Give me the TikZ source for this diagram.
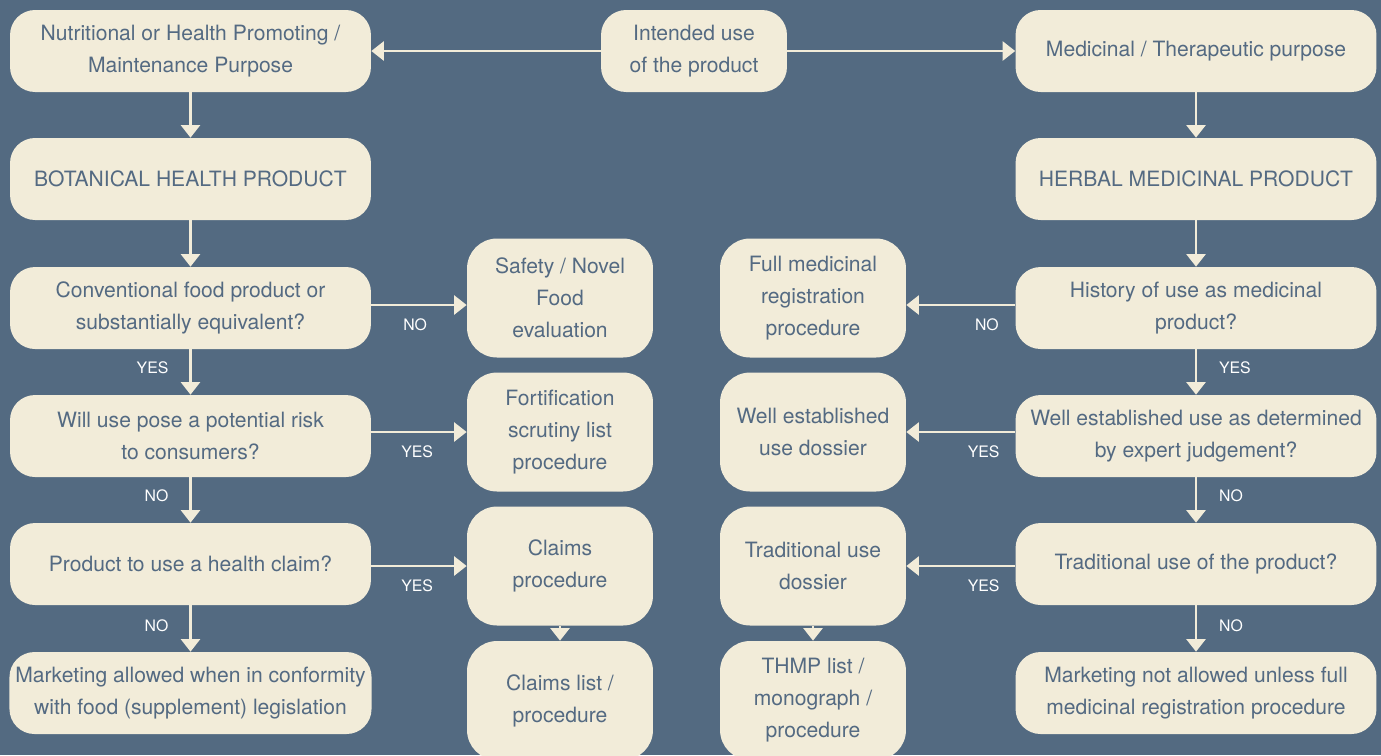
\documentclass[tikz,border=0pt]{standalone}
\usepackage{fontspec}
\setmainfont{TeX Gyre Heros}
\usepackage{tikz}
\usetikzlibrary{arrows.meta}
\definecolor{bgc}{RGB}{83,106,129}
\definecolor{boxc}{RGB}{242,236,217}
\definecolor{txtc}{RGB}{84,106,130}
\tikzset{
  box/.style={fill=boxc,rounded corners=0.5cm,minimum width=7.22cm,minimum height=1.64cm,
    align=center,text=txtc,font=\fontsize{12}{18.2}\selectfont},
  sbox/.style={box,minimum width=3.72cm,minimum height=2.38cm,rounded corners=0.6cm},
  arr/.style={draw=boxc,line width=0.045cm,-{Triangle[width=0.38cm,length=0.25cm]}},
  lab/.style={text=white,font=\fontsize{9}{10}\selectfont,inner sep=0pt}
}
\begin{document}
\begin{tikzpicture}[x=0.02cm,y=-0.02cm]
\fill[bgc](0,0)rectangle(1381,755);
\useasboundingbox(0,0)rectangle(1381,755);
% left column
\node[box](L1)at(190.5,51){Nutritional or Health Promoting /\\Maintenance Purpose};
\node[box](L2)at(190.5,179){BOTANICAL HEALTH PRODUCT};
\node[box](L3)at(190.5,308){Conventional food product or\\substantially equivalent?};
\node[box](L4)at(190.5,436){Will use pose a potential risk\\to consumers?};
\node[box](L5)at(190.5,564){Product to use a health claim?};
\node[box](L6)at(190.5,693){Marketing allowed when in conformity\\with food (supplement) legislation};
% centre
\node[box,minimum width=3.72cm](In)at(694,51){Intended use\\of the product};
% right column
\node[box](R1)at(1196,51){Medicinal / Therapeutic purpose};
\node[box](R2)at(1196,179){HERBAL MEDICINAL PRODUCT};
\node[box](R3)at(1196,308){History of use as medicinal\\product?};
\node[box](R4)at(1196,436){Well established use as determined\\by expert judgement?};
\node[box](R5)at(1196,564){Traditional use of the product?};
\node[box](R6)at(1196,693){Marketing not allowed unless full\\medicinal registration procedure};
% procedures
\node[sbox](S1)at(560,298){Safety / Novel\\Food\\evaluation};
\node[sbox](S2)at(560,432){Fortification\\scrutiny list\\procedure};
\node[sbox](S3)at(560,566){Claims\\procedure};
\node[sbox](S4)at(560,700.5){Claims list /\\procedure};
\node[sbox](M1)at(813,298){Full medicinal\\registration\\procedure};
\node[sbox](M2)at(813,432){Well established\\use dossier};
\node[sbox](M3)at(813,566){Traditional use\\dossier};
\node[sbox](M4)at(813,700.5){THMP list /\\monograph /\\procedure};
% arrows
\draw[arr](In)--(L1);
\draw[arr](In)--(R1);
\foreach \a/\b in {L1/L2,L2/L3,R1/R2,R2/R3,S3/S4,M3/M4}
  \draw[arr](\a)--(\b);
\draw[arr](L3)--node[lab,pos=0.4,left=0.42cm]{YES}(L4);
\draw[arr](L4)--node[lab,pos=0.4,left=0.42cm]{NO}(L5);
\draw[arr](L5)--node[lab,pos=0.45,left=0.42cm]{NO}(L6);
\draw[arr](R3)--node[lab,pos=0.4,right=0.44cm]{YES}(R4);
\draw[arr](R4)--node[lab,pos=0.4,right=0.44cm]{NO}(R5);
\draw[arr](R5)--node[lab,pos=0.45,right=0.44cm]{NO}(R6);
\draw[arr]([yshift=0.06cm]L3.east)--node[lab,pos=0.46,below=0.26cm]{NO}([yshift=0.06cm]L3.east-|S1.west);
\draw[arr]([yshift=0.08cm]L4.east)--node[lab,pos=0.48,below=0.26cm]{YES}([yshift=0.08cm]L4.east-|S2.west);
\draw[arr]([yshift=-0.04cm]L5.east)--node[lab,pos=0.48,below=0.26cm]{YES}([yshift=-0.04cm]L5.east-|S3.west);
\draw[arr]([yshift=0.06cm]R3.west)--node[lab,pos=0.26,below=0.26cm]{NO}([yshift=0.06cm]R3.west-|M1.east);
\draw[arr]([yshift=0.08cm]R4.west)--node[lab,pos=0.29,below=0.26cm]{YES}([yshift=0.08cm]R4.west-|M2.east);
\draw[arr]([yshift=-0.04cm]R5.west)--node[lab,pos=0.29,below=0.26cm]{YES}([yshift=-0.04cm]R5.west-|M3.east);
\end{tikzpicture}
\end{document}
